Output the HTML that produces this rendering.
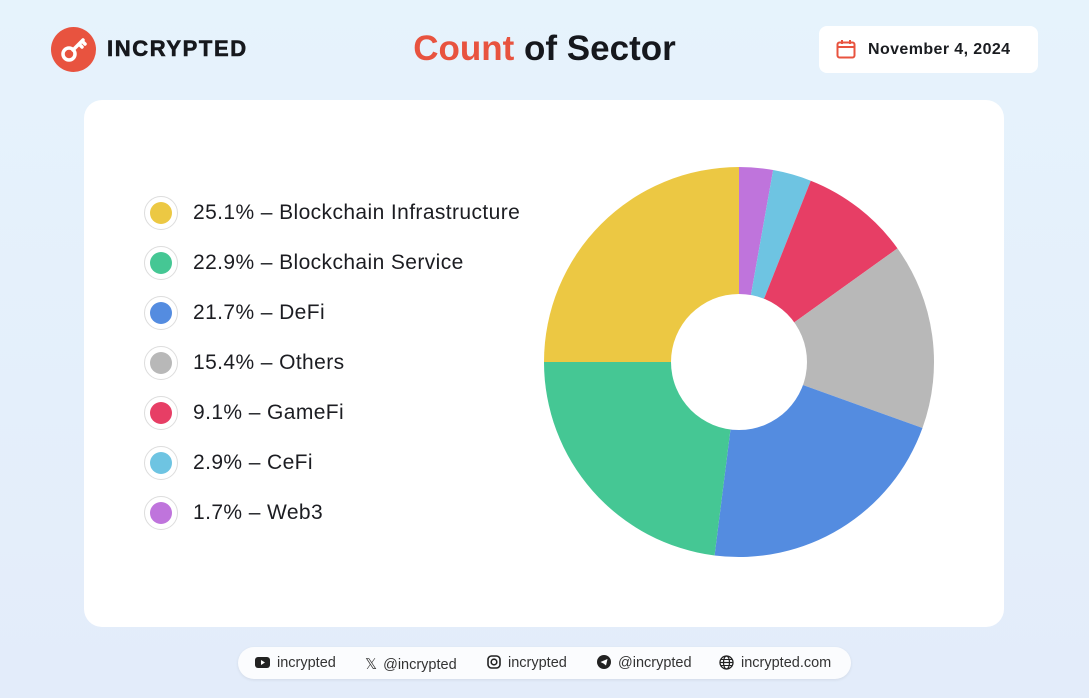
<!DOCTYPE html>
<html><head><meta charset="utf-8">
<style>
*{margin:0;padding:0;box-sizing:border-box}
body{width:1089px;height:698px;overflow:hidden;font-family:"Liberation Sans",sans-serif;background:linear-gradient(180deg,#e6f3fc 0%,#e3ecfa 100%);position:relative}
.abs{position:absolute}
.logo-circle{left:51px;top:27px;width:45px;height:45px;border-radius:50%;background:#e8533f}
.logo-text{left:107px;top:36px;font-size:22px;font-weight:900;letter-spacing:1.6px;color:#16181d;-webkit-text-stroke:0.6px #16181d}
.title{left:0;width:1089px;top:29px;text-align:center;font-size:35px;font-weight:bold;color:#16181d}
.title span{color:#e8533f}
.date{left:819px;top:26px;width:219px;height:47px;background:#fff;border-radius:8px}
.date-text{left:49px;top:15px;font-size:16px;font-weight:bold;color:#1a1c20;letter-spacing:0.4px}
.card{left:84px;top:100px;width:920px;height:527px;background:#fff;border-radius:18px}
.leg{left:144px;font-size:21px;letter-spacing:0.4px;color:#1c1d22;height:34px}
.dot{position:absolute;left:0;top:0;width:34px;height:34px;border-radius:50%;border:1px solid #ddd;background:#fff}
.dot i{position:absolute;left:5px;top:5px;width:22px;height:22px;border-radius:50%}
.leg span{position:absolute;left:49px;top:5px;white-space:nowrap}
.footer{left:238px;top:647px;width:613px;height:32px;background:#fbfcfe;border-radius:16px;box-shadow:0 1px 3px rgba(0,0,0,0.08);font-size:14.5px;color:#333}
.fi{position:absolute;top:8px;white-space:nowrap}
</style></head><body>
<div class="abs logo-circle">
<svg width="45" height="45"><circle cx="18" cy="27" r="6" fill="none" stroke="#fff" stroke-width="3.5"/><path d="M22 23 L32 13 M28 17 L31 20 M31 14 L34 17" stroke="#fff" stroke-width="3.5" stroke-linecap="round"/></svg></div>
<div class="abs logo-text">INCRYPTED</div>
<div class="abs title"><span>Count</span> of Sector</div>
<div class="abs date">
<svg class="abs" style="left:17px;top:13px" width="20" height="20"><rect x="1.5" y="3.5" width="17" height="15" rx="2" fill="none" stroke="#e8533f" stroke-width="2"/><line x1="1.5" y1="8" x2="18.5" y2="8" stroke="#e8533f" stroke-width="2"/><line x1="6" y1="1" x2="6" y2="5" stroke="#e8533f" stroke-width="2"/><line x1="14" y1="1" x2="14" y2="5" stroke="#e8533f" stroke-width="2"/></svg>
<div class="abs date-text">November 4, 2024</div></div>
<div class="abs card"></div>
<div id="legend"></div>
<svg class="abs" style="left:0;top:0" width="1089" height="698" id="pie"></svg>
<div class="abs footer">
<div class="fi" style="left:17px"><svg width="15" height="11" style="vertical-align:-1px;margin-right:7px"><rect width="15" height="11" rx="3" fill="#222"/><path d="M6 3 L10 5.5 L6 8Z" fill="#fff"/></svg>incrypted</div>
<div class="fi" style="left:127px"><span style="font-size:15px;margin-right:6px">𝕏</span>@incrypted</div>
<div class="fi" style="left:249px"><svg width="14" height="14" style="vertical-align:-2px;margin-right:7px"><rect x="1" y="1" width="12" height="12" rx="3.5" fill="none" stroke="#222" stroke-width="1.6"/><circle cx="7" cy="7" r="2.8" fill="none" stroke="#222" stroke-width="1.6"/></svg>incrypted</div>
<div class="fi" style="left:359px"><svg width="14" height="14" style="vertical-align:-2px;margin-right:7px"><circle cx="7" cy="7" r="7" fill="#222"/><path d="M3.5 7 L10.5 4 L9 10.5 L6.5 8.5Z" fill="#fff"/></svg>@incrypted</div>
<div class="fi" style="left:481px"><svg width="15" height="15" style="vertical-align:-3px;margin-right:7px"><circle cx="7.5" cy="7.5" r="6.5" fill="none" stroke="#222" stroke-width="1.3"/><ellipse cx="7.5" cy="7.5" rx="3" ry="6.5" fill="none" stroke="#222" stroke-width="1.2"/><line x1="1" y1="7.5" x2="14" y2="7.5" stroke="#222" stroke-width="1.2"/><line x1="2" y1="4.5" x2="13" y2="4.5" stroke="#222" stroke-width="1"/><line x1="2" y1="10.5" x2="13" y2="10.5" stroke="#222" stroke-width="1"/></svg>incrypted.com</div>
</div>
<script>
const categories=["Blockchain Infrastructure","Blockchain Service","DeFi","Others","GameFi","CeFi","Web3"];
const labelPercents=[25.1,22.9,21.7,15.4,9.1,2.9,1.7];
const colors=["#ecc843","#45c794","#548ce0","#b8b8b8","#e73e65","#6ec4e2","#bf74dc"];
// slice sizes as drawn, clockwise from top: Web3, CeFi, GameFi, Others, DeFi, Service, Infra
const sliceOrder=[6,5,4,3,2,1,0];
const sliceValues=[2.8,3.2,9.1,15.4,21.5,23.0,25.0];
const leg=document.getElementById('legend');
categories.forEach((c,i)=>{
 const d=document.createElement('div');
 d.className='abs leg';d.style.top=(196+i*50)+'px';
 
 
 d.innerHTML='<div class="dot"><i style="background:'+colors[i]+'"></i></div><span>'+labelPercents[i].toFixed(1)+'% – '+c+'</span>';
 leg.appendChild(d);
});
const cx=739,cy=362,R=195,r=68;
const svg=document.getElementById('pie');const NS='http://www.w3.org/2000/svg';
const total=sliceValues.reduce((a,b)=>a+b,0);
let a0=0;
function pt(a,rad){return [cx+rad*Math.sin(a),cy-rad*Math.cos(a)];}
sliceValues.forEach((v,k)=>{
 const a1=a0+v/total*2*Math.PI;
 const p0=pt(a0,R),p1=pt(a1,R),large=(a1-a0)>Math.PI?1:0;
 const p=document.createElementNS(NS,'path');
 p.setAttribute('d','M'+cx+' '+cy+' L'+p0[0]+' '+p0[1]+' A'+R+' '+R+' 0 '+large+' 1 '+p1[0]+' '+p1[1]+'Z');
 p.setAttribute('fill',colors[sliceOrder[k]]);
 
 
 svg.appendChild(p);a0=a1;
});
const h=document.createElementNS(NS,'circle');
h.setAttribute('cx',cx);h.setAttribute('cy',cy);h.setAttribute('r',r);h.setAttribute('fill','#fff');


svg.appendChild(h);
</script>
</body></html>
